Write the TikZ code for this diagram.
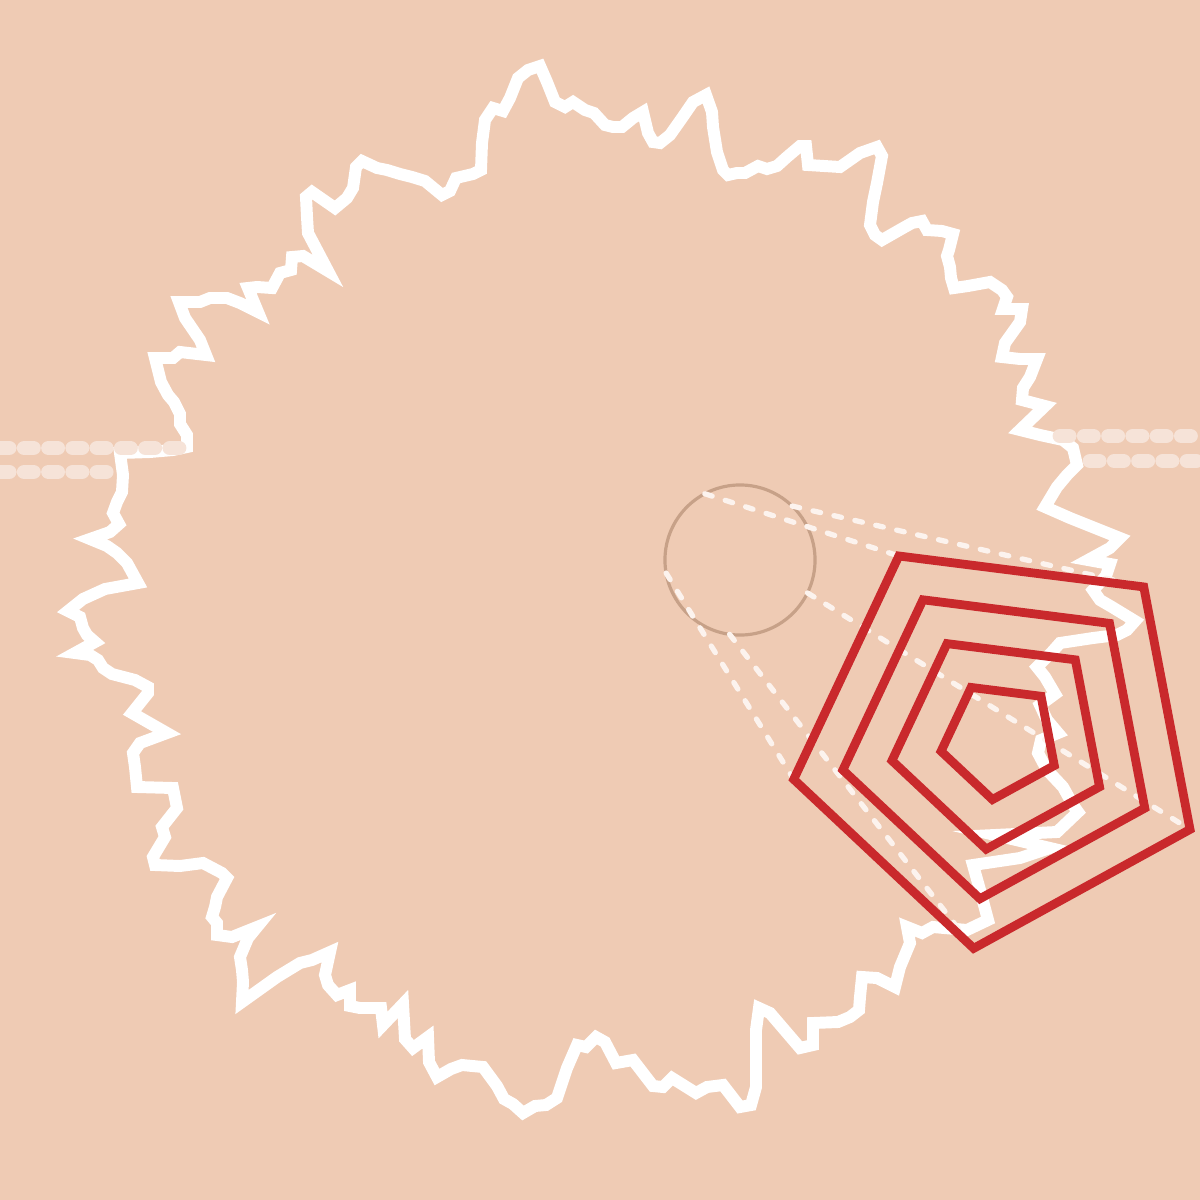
\documentclass[tikz,border=0pt]{standalone}
\usepackage{xcolor}
\usepackage{tikz}
\usetikzlibrary{calc}
\definecolor{skin}{HTML}{EFCBB4}
\definecolor{railpink}{HTML}{F6E3D8}
\definecolor{lenstan}{HTML}{C7A188}
\definecolor{guidewhite}{HTML}{FCF3EE}
\definecolor{ringred}{HTML}{C9292C}
\begin{document}
\begin{tikzpicture}[
    x=0.01cm, y=-0.01cm,
    rim/.style={draw=white, line width=3.4pt, line join=miter},
    rail/.style={draw=railpink, line width=4.2pt, line cap=round, dash pattern=on 2.6pt off 4.3pt},
    lens/.style={circle, draw=lenstan, line width=0.9pt, minimum size=1.5cm,
                 inner sep=0pt, outer sep=0pt},
    guide/.style={draw=guidewhite, line width=1.5pt, line cap=round, dash pattern=on 2.2pt off 3.9pt},
    ring/.style={draw=ringred, line width=2.5pt, line join=miter}
  ]
    \useasboundingbox (0,0) rectangle (1200,1200);
    \fill[skin] (0,0) rectangle (1200,1200);
    \draw[rim] plot coordinates {(68,611) (83,599) (105,589) (138,583) (127,563) (117,553)
      (107,546) (90,539) (110,532) (119,524) (113,513) (117,502) (122,492) (123,475) (120,453)
      (150,452) (173,450) (187,447) (187,435) (180,424) (180,414) (174,402) (168,395) (161,382)
      (155,358) (173,358) (180,352) (206,355) (200,340) (185,318) (179,302) (200,302) (210,298)
      (227,298) (240,303) (258,312) (248,288) (257,287) (272,288) (280,273) (291,270) (292,257)
      (303,256) (328,271) (308,233) (307,217) (306,197) (312,192) (335,208) (347,198) (353,188)
      (356,167) (362,161) (377,168) (387,170) (400,174) (412,177) (425,181) (442,195) (450,191)
      (456,178) (473,174) (481,170) (482,143) (485,120) (493,108) (503,111) (510,98) (518,78)
      (528,70) (540,66) (547,82) (555,102) (565,107) (573,102) (585,110) (594,113) (605,125)
      (613,127) (622,127) (633,118) (643,112) (648,133) (653,142) (660,143) (670,135) (682,118)
      (693,102) (706,95) (712,112) (713,127) (717,152) (723,170) (728,175) (737,173) (745,173)
      (758,166) (767,169) (777,166) (787,157) (800,146) (806,146) (808,165) (840,167) (860,153)
      (877,147) (882,156) (877,183) (873,202) (870,225) (875,235) (882,240) (903,228) (912,223)
      (922,221) (927,230) (942,231) (953,234) (949,250) (947,256) (950,267) (951,278) (954,288)
      (968,286) (990,282) (1002,290) (1007,297) (1003,309) (1022,309) (1020,322) (1005,343)
      (1002,357) (1020,359) (1037,359) (1030,377) (1023,388) (1022,400) (1045,406) (1020,430)
      (1040,435) (1063,440) (1073,448) (1077,465) (1067,475) (1057,487) (1045,507) (1070,518)
      (1100,530) (1120,538) (1110,548) (1088,560) (1110,564) (1106,576) (1093,590) (1100,600)
      (1112,607) (1135,621) (1127,630) (1117,635) (1093,638) (1060,643) (1052,652) (1037,667)
      (1045,677) (1055,694) (1040,705) (1047,720) (1058,733) (1041,740) (1038,753) (1047,770)
      (1063,787) (1073,805) (1078,812) (1057,832) (995,835) (1050,848) (1020,858) (973,865)
      (980,890) (988,920) (967,930) (933,927) (922,933) (907,927) (910,943) (900,967) (895,987)
      (877,978) (862,977) (860,997) (859,1010) (850,1017) (838,1022) (813,1023) (813,1045)
      (800,1048) (770,1013) (759,1008) (756,1030) (756,1087) (751,1105) (740,1107) (723,1085)
      (707,1087) (696,1093) (672,1078) (663,1087) (653,1086) (633,1060) (616,1063) (605,1042)
      (596,1037) (586,1047) (577,1045) (567,1068) (557,1098) (546,1105) (535,1106) (523,1113)
      (513,1104) (504,1099) (497,1086) (483,1067) (462,1065) (451,1069) (437,1077) (429,1062)
      (428,1037) (413,1048) (405,1039) (403,1004) (383,1025) (381,1008) (360,1008) (350,1006)
      (350,990) (337,995) (328,985) (325,975) (330,952) (312,960) (300,963) (277,977) (242,1002)
      (243,982) (242,970) (240,957) (248,938) (257,927) (232,937) (217,935) (217,923) (212,917)
      (215,907) (217,897) (227,878) (222,873) (203,863) (180,866) (155,865) (153,857) (165,837)
      (162,827) (177,808) (173,788) (137,787) (135,767) (133,753) (140,743) (167,733) (132,713)
      (148,693) (148,687) (135,680) (112,674) (103,668) (98,660) (90,655) (75,653) (95,642)
      (87,635) (83,628) (80,617)} -- cycle;
    \draw[rail] (0,448) -- (180,448);
    \draw[rail] (0,472) -- (108,472);
    \draw[rail] (1060,436) -- (1200,436);
    \draw[rail] (1090,461) -- (1200,461);
    \node[lens] (lens) at (740,560) {};
    \coordinate (ctr) at (1000,740);
    \foreach \i/\a in {1/-118.8,2/-46.8,3/25.2,4/97.2,5/169.2}
      \coordinate (p\i) at ($(ctr)+(\a:210)$);
    \foreach \i/\a in {1/118.8,2/46.8,3/334.8,4/262.8,5/190.8}
      \draw[guide] (lens.\a) -- (p\i);
    \begin{scope}[shift={(ctr)}]
      \foreach \r in {210,160,110,60}
        \draw[ring] (-118.8:\r) -- (-46.8:\r) -- (25.2:\r) -- (97.2:\r) -- (169.2:\r) -- cycle;
    \end{scope}
\end{tikzpicture}
\end{document}
